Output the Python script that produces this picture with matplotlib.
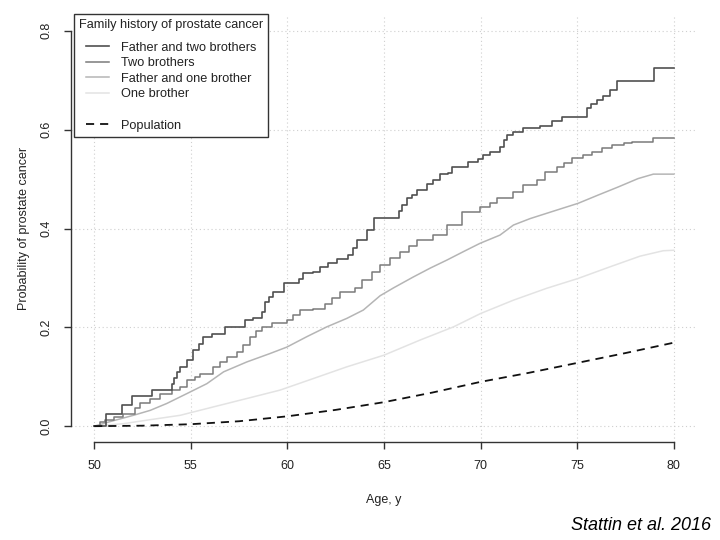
import matplotlib
matplotlib.use("Agg")
import matplotlib.pyplot as plt
from matplotlib.lines import Line2D

plt.rcParams['font.family'] = ['Liberation Sans', 'DejaVu Sans']

# --- data (age in years, cumulative probability) ---
f2b_age = [50, 50.6, 51.43, 51.95, 52.98, 54.05, 54.15, 54.28, 54.45, 54.8, 55.14, 55.4,
           55.65, 56.09, 56.78, 57.81, 58.24, 58.67, 58.85, 59.05, 59.28, 59.8, 60.6,
           60.83, 61.35, 61.69, 62.1, 62.55, 63.16, 63.4, 63.6, 64.1, 64.5, 65.8, 65.92,
           66.18, 66.44, 66.7, 67.2, 67.55, 67.9, 68.33, 68.5, 69.36, 69.88, 70.14, 70.49,
           71.0, 71.2, 71.35, 71.7, 72.2, 73.07, 73.68, 74.2, 75.5, 75.7, 76.0, 76.35,
           76.7, 77.04, 79.0, 80]
f2b_val = [0, 0.024, 0.0425, 0.061, 0.074, 0.085, 0.097, 0.11, 0.12, 0.134, 0.154, 0.167,
           0.181, 0.1875, 0.201, 0.2146, 0.218, 0.2314, 0.2517, 0.262, 0.272, 0.289, 0.298,
           0.309, 0.312, 0.3225, 0.33, 0.339, 0.346, 0.36, 0.3765, 0.397, 0.4217, 0.435, 0.447,
           0.461, 0.4676, 0.478, 0.49, 0.498, 0.5095, 0.5115, 0.525, 0.535, 0.54, 0.5486, 0.555,
           0.565, 0.58, 0.59, 0.596, 0.6026, 0.607, 0.6174, 0.625, 0.643, 0.652, 0.66, 0.668,
           0.68, 0.699, 0.7253, 0.7253]

tb_age = [50, 50.3, 50.57, 51.0, 51.5, 52.1, 52.38, 52.9, 53.41, 54.02, 54.45, 54.8, 55.22,
          55.48, 56.17, 56.52, 56.86, 57.38, 57.72, 58.07, 58.4, 58.67, 59.19, 59.97, 60.3,
          60.66, 61.35, 61.95, 62.3, 62.73, 63.5, 63.85, 64.37, 64.8, 65.3, 65.83, 66.3,
          66.7, 67.55, 68.25, 69.02, 69.97, 70.49, 70.83, 71.7, 72.2, 72.9, 73.33, 73.94,
          74.3, 74.71, 75.3, 75.75, 76.3, 76.78, 77.4, 77.81, 78.94, 80]
tb_val = [0, 0.009, 0.012, 0.018, 0.024, 0.036, 0.046, 0.056, 0.066, 0.074, 0.0795, 0.093, 0.1,
          0.105, 0.12, 0.13, 0.14, 0.15, 0.164, 0.181, 0.192, 0.201, 0.208, 0.2146, 0.225,
          0.235, 0.238, 0.248, 0.26, 0.272, 0.28, 0.2955, 0.312, 0.326, 0.34, 0.353, 0.365,
          0.3765, 0.3866, 0.407, 0.434, 0.444, 0.451, 0.461, 0.474, 0.488, 0.498, 0.515, 0.525,
          0.533, 0.542, 0.5486, 0.555, 0.562, 0.569, 0.5735, 0.5755, 0.5836, 0.5836]

f1b_age = [50, 50.8, 52.03, 52.9, 53.76, 54.8, 55.83, 56.7, 57.9, 59.1, 59.97, 61.0, 62.04,
           63.07, 63.93, 64.8, 65.5, 66.52, 67.4, 68.25, 69.1, 69.97, 71.0, 71.7, 72.56,
           73.68, 75.05, 76.08, 77.12, 78.15, 78.94, 80]
f1b_val = [0, 0.009, 0.022, 0.032, 0.046, 0.066, 0.086, 0.11, 0.13, 0.147, 0.16, 0.181, 0.201,
           0.218, 0.235, 0.264, 0.28, 0.302, 0.32, 0.336, 0.353, 0.37, 0.3866, 0.407, 0.42,
           0.434, 0.451, 0.4676, 0.484, 0.501, 0.51, 0.51]

ob_age = [50, 51.5, 52.7, 54.45, 56.17, 57.9, 59.62, 61.35, 63.07, 65, 66.85, 68.6, 70, 71.7,
          73.42, 75.05, 76.7, 78.25, 79.45, 80]
ob_val = [0, 0.005, 0.012, 0.022, 0.039, 0.056, 0.073, 0.0965, 0.12, 0.1437, 0.174, 0.201,
          0.228, 0.255, 0.279, 0.299, 0.3225, 0.344, 0.355, 0.356]

pop_age = [50, 52.5, 55, 57.5, 60, 62.5, 65, 67.5, 70, 72.5, 75, 77.5, 80]
pop_val = [0, 0.001, 0.004, 0.01, 0.02, 0.033, 0.0486, 0.068, 0.0897, 0.108, 0.128, 0.148, 0.169]

x_ticks = [50, 55, 60, 65, 70, 75, 80]
y_ticks = [0.0, 0.2, 0.4, 0.6, 0.8]

txt = '#222222'

fig = plt.figure(figsize=(7.2, 5.4), dpi=100)
ax = fig.add_axes([71 / 720, 98 / 540, 626 / 720, 427 / 540])

# R-style padded limits
ax.set_xlim(50 - 0.04 * 30, 80 + 0.04 * 30)
ax.set_ylim(-0.04 * 0.8, 0.8 + 0.04 * 0.8)

for xv in x_ticks:
    ax.axvline(xv, color='#cfcfcf', lw=0.8, ls=(0, (1, 2.5)), zorder=0)
for yv in y_ticks:
    ax.axhline(yv, color='#cfcfcf', lw=0.8, ls=(0, (1, 2.5)), zorder=0)

ax.plot(ob_age, ob_val, color='#e3e3e3', lw=1.1)
ax.plot(f1b_age, f1b_val, color='#b5b5b5', lw=1.1)
ax.plot(tb_age, tb_val, color='#7a7a7a', lw=1.1, drawstyle='steps-post')
ax.plot(f2b_age, f2b_val, color='#505050', lw=1.2, drawstyle='steps-post')
ax.plot(pop_age, pop_val, color='#111111', lw=1.3, dashes=(4.5, 3.3))

for side in ['top', 'right']:
    ax.spines[side].set_visible(False)
ax.spines['left'].set_bounds(0, 0.8)
ax.spines['bottom'].set_bounds(50, 80)
for side in ['left', 'bottom']:
    ax.spines[side].set_color('#333333')
    ax.spines[side].set_linewidth(1.0)

ax.set_xticks(x_ticks)
ax.set_xticklabels([str(v) for v in x_ticks])
ax.set_yticks(y_ticks)
ax.set_yticklabels(['%.1f' % v for v in y_ticks], rotation=90, va='center')
ax.tick_params(direction='out', length=5, width=1.0, color='#333333',
               labelsize=9, labelcolor=txt, pad=8)

ax.set_xlabel('Age, y', fontsize=9, color=txt, labelpad=16)
ax.set_ylabel('Probability of prostate cancer', fontsize=9, color=txt, labelpad=8)

handles = [
    Line2D([], [], color='#505050', lw=1.2),
    Line2D([], [], color='#7a7a7a', lw=1.1),
    Line2D([], [], color='#b5b5b5', lw=1.1),
    Line2D([], [], color='#e3e3e3', lw=1.1),
    Line2D([], [], color='none'),
    Line2D([], [], color='#111111', lw=1.3, dashes=(4.5, 3.3)),
]
labels = ['Father and two brothers', 'Two brothers', 'Father and one brother',
          'One brother', '', 'Population']
leg = ax.legend(handles, labels, title='Family history of prostate cancer',
                loc='upper left', bbox_to_anchor=(3 / 626, 1 + 1 / 427),
                borderaxespad=0, fancybox=False, framealpha=1,
                fontsize=9.2, title_fontsize=9.2, handlelength=1.75,
                handletextpad=0.95, labelspacing=0.28, borderpad=0.4)
leg._legend_box.sep = 9.2 * 0.28 + 5  # extra room under the title
leg.get_frame().set_edgecolor('#333333')
leg.get_frame().set_linewidth(1.0)
for t in leg.get_texts():
    t.set_color(txt)
leg.get_title().set_color(txt)

fig.text(0.988, 0.026, 'Stattin et al. 2016', ha='right', va='center',
         fontsize=13, style='italic', color='black')

fig.savefig('out.png', dpi=100)
